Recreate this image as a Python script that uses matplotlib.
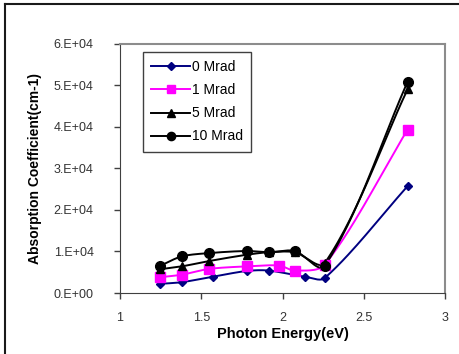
import numpy as np
import matplotlib
matplotlib.use("Agg")
import matplotlib.pyplot as plt
from matplotlib.lines import Line2D

plt.rcParams["font.family"] = ["Liberation Sans", "DejaVu Sans"]

# photon energy (eV) and absorption coefficient (cm-1) per dose
energy_0 = [1.245, 1.38, 1.57, 1.78, 1.915, 2.14, 2.26, 2.77]
alpha_0 = [2200, 2600, 3900, 5300, 5400, 3900, 3600, 25700]

energy_1 = [1.245, 1.38, 1.55, 1.78, 1.98, 2.075, 2.26, 2.77]
alpha_1 = [3800, 4400, 5800, 6400, 6600, 5400, 6800, 39300]

energy_5 = [1.245, 1.38, 1.55, 1.78, 1.915, 2.075, 2.26, 2.77]
alpha_5 = [5700, 6400, 7700, 9200, 9800, 9800, 7200, 49000]

energy_10 = [1.245, 1.38, 1.55, 1.78, 1.915, 2.075, 2.26, 2.77]
alpha_10 = [6500, 8800, 9600, 10100, 9800, 10100, 6500, 50800]

labels = ["0 Mrad", "1 Mrad", "5 Mrad", "10 Mrad"]
colors = ["#000080", "#FF00FF", "black", "black"]
markers = ["D", "s", "^", "o"]
msizes = [4.5, 6.5, 6, 7]

X_SCALE = 325 / 2.0      # px per eV
Y_SCALE = 249.5 / 60000  # px per cm-1


def smooth(xs, ys, n=30, k=0.3):
    # smoothed line: cubic Bezier, tangent from neighbours, length from segment
    p = np.column_stack([np.asarray(xs) * X_SCALE, np.asarray(ys) * Y_SCALE])

    def tangent(i):
        a = p[i - 1] if i > 0 else p[i]
        b = p[i + 1] if i + 1 < len(p) else p[i]
        d = b - a
        return d / np.hypot(*d)

    pts = []
    for i in range(len(p) - 1):
        L = np.hypot(*(p[i + 1] - p[i]))
        c1 = p[i] + tangent(i) * L * k
        c2 = p[i + 1] - tangent(i + 1) * L * k
        t = np.linspace(0, 1, n)[:, None]
        seg = ((1 - t) ** 3 * p[i] + 3 * (1 - t) ** 2 * t * c1
               + 3 * (1 - t) * t ** 2 * c2 + t ** 3 * p[i + 1])
        pts.append(seg)
    pts = np.vstack(pts)
    return pts[:, 0] / X_SCALE, pts[:, 1] / Y_SCALE


fig = plt.figure(figsize=(4.6, 3.54), dpi=100)
ax = fig.add_axes([120 / 460, 61 / 354, 325 / 460, 249.5 / 354])

series = [(energy_0, alpha_0), (energy_1, alpha_1), (energy_5, alpha_5), (energy_10, alpha_10)]
handles = []
for (xs, ys), lab, c, m, ms in zip(series, labels, colors, markers, msizes):
    sx, sy = smooth(xs, ys)
    ax.plot(sx, sy, color=c, lw=1.4, zorder=2)
    ax.plot(xs, ys, ls="none", marker=m, color=c, ms=ms, zorder=3)
    handles.append(Line2D([], [], color=c, lw=1.4, marker=m, ms=ms * 0.85, label=lab))

ax.set_xlim(1, 3)
ax.set_ylim(0, 60000)
ax.set_xticks([1, 1.5, 2, 2.5, 3])
ax.set_xticklabels(["1", "1.5", "2", "2.5", "3"])
ax.set_yticks(np.arange(0, 60001, 10000))
ax.set_yticklabels(["%d.E+0%d" % (v // 10000, 0 if v == 0 else 4) for v in range(0, 60001, 10000)])
ax.tick_params(direction="out", length=4, width=1, color="#404040", labelcolor="#333333",
               labelsize=9)
ax.tick_params(axis="y", pad=15)
ax.tick_params(axis="x", pad=10)

for s in ["left", "bottom"]:
    ax.spines[s].set_color("#404040")
for s in ["top", "right"]:
    ax.spines[s].set_color("#8c8c8c")
    ax.spines[s].set_linewidth(1.5)

ax.set_xlabel("Photon Energy(eV)", fontsize=10.5, fontweight="bold", labelpad=2)
ax.set_ylabel("Absorption Coefficient(cm-1)", fontsize=10, fontweight="bold", labelpad=8)

leg = ax.legend(handles=handles, loc="upper left", bbox_to_anchor=(23 / 325, 241 / 249.5),
                borderaxespad=0, fontsize=10, handlelength=2.8, handletextpad=0.1,
                labelspacing=0.65, fancybox=False, framealpha=1, borderpad=0.6)
leg.get_frame().set_edgecolor("#404040")
leg.get_frame().set_linewidth(1)

# chart area border (left and top edges)
fig.add_artist(Line2D([5 / 460, 5 / 460], [0, 1 - 4 / 354], color="#1a1a1a", lw=1.5,
                      transform=fig.transFigure))
fig.add_artist(Line2D([5 / 460, 1], [1 - 4 / 354, 1 - 4 / 354], color="#1a1a1a", lw=1.5,
                      transform=fig.transFigure))

fig.savefig("out.png", dpi=100)
